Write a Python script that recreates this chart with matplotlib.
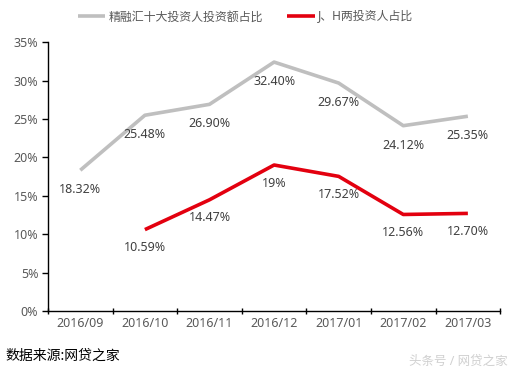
import matplotlib
matplotlib.use("Agg")
import matplotlib.pyplot as plt

plt.rcParams['font.family'] = ['Noto Sans', 'Noto Sans CJK SC', 'DejaVu Sans']

categories = ["2016/09", "2016/10", "2016/11", "2016/12", "2017/01", "2017/02", "2017/03"]
top10 = [18.32, 25.48, 26.90, 32.40, 29.67, 24.12, 25.35]
top10_labels = ["18.32%", "25.48%", "26.90%", "32.40%", "29.67%", "24.12%", "25.35%"]
jh = [None, 10.59, 14.47, 19.00, 17.52, 12.56, 12.70]
jh_labels = [None, "10.59%", "14.47%", "19%", "17.52%", "12.56%", "12.70%"]
yticks = [0, 5, 10, 15, 20, 25, 30, 35]
series_names = ["精融汇十大投资人投资额占比", "J、H两投资人占比"]

fig = plt.figure(figsize=(5.15, 3.76), dpi=100)
ax = fig.add_axes([0.0932, 0.173, 0.878, 0.715])

x = list(range(len(categories)))
gray = "#BFBFBF"
red = "#E3000F"
ax.plot(x, top10, color=gray, lw=2.6, solid_capstyle='butt', label=series_names[0])
jx = [i for i, v in zip(x, jh) if v is not None]
jv = [v for v in jh if v is not None]
ax.plot(jx, jv, color=red, lw=2.6, solid_capstyle='butt', label=series_names[1])

txtc = "#404040"
for i, (v, l) in enumerate(zip(top10, top10_labels)):
    ax.annotate(l, (i, v), xytext=(0, -14), textcoords='offset points',
                ha='center', va='center', fontsize=9, color=txtc)
for i, (v, l) in enumerate(zip(jh, jh_labels)):
    if v is None:
        continue
    ax.annotate(l, (i, v), xytext=(0, -13), textcoords='offset points',
                ha='center', va='center', fontsize=9, color=txtc)

ax.set_xlim(-0.5, len(categories) - 0.5)
ax.set_ylim(0, 35)
ax.set_yticks(yticks)
ax.set_yticklabels([f"{t}%" for t in yticks], fontsize=9, color="#595959")
ax.set_xticks([i - 0.5 for i in range(len(categories) + 1)], minor=False)
ax.set_xticklabels([])
ax.set_xticks(x, minor=True)
ax.set_xticklabels(categories, minor=True, fontsize=9, color="#595959")
ax.tick_params(axis='x', which='minor', length=0, pad=4)
ax.tick_params(axis='x', which='major', length=4, direction='inout', width=1)
ax.tick_params(axis='y', length=4, direction='out', width=1, pad=3)
for s in ['top', 'right']:
    ax.spines[s].set_visible(False)
for s in ['left', 'bottom']:
    ax.spines[s].set_color('black')
    ax.spines[s].set_linewidth(1)

leg = fig.legend(loc='center', bbox_to_anchor=(0.477, 0.955), ncol=2, frameon=False,
                 fontsize=8.6, handlelength=2.3, handletextpad=0.3, columnspacing=2.0)
for t in leg.get_texts():
    t.set_color("#595959")

fig.text(0.01, 0.053, "数据来源:网贷之家", fontsize=10, color="black", va='center', ha='left')
fig.text(0.985, 0.04, "头条号 / 网贷之家", fontsize=9, color="#D0D0D0", va='center', ha='right')

fig.savefig("out.png", dpi=100)
